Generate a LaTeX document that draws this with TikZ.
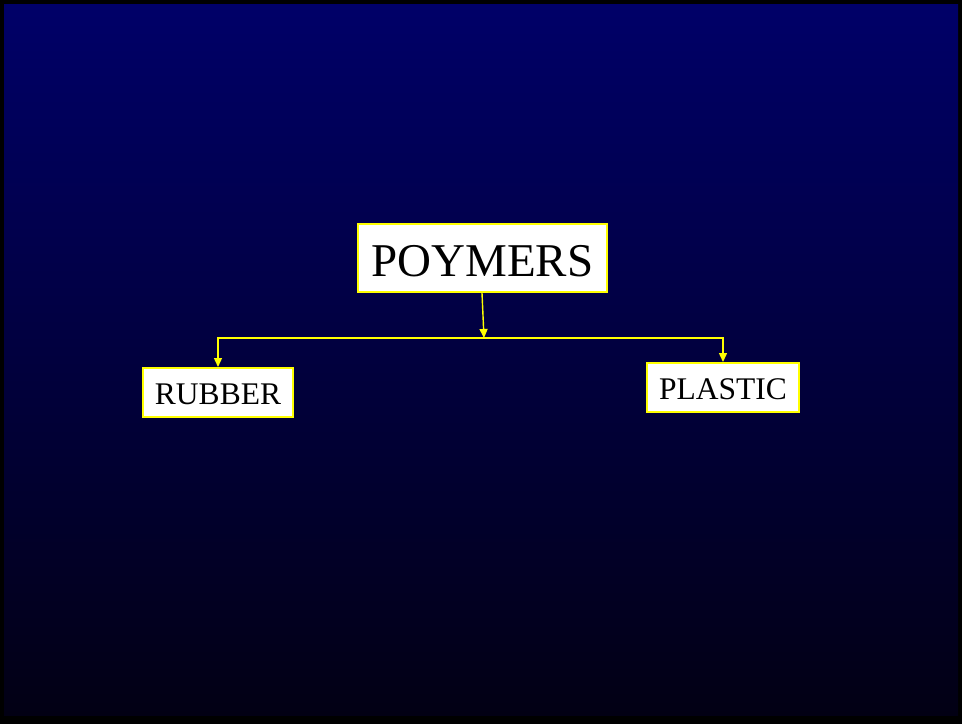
\documentclass[tikz,border=0pt]{standalone}
\usepackage{fontspec}
\setmainfont{Liberation Serif}
\usetikzlibrary{arrows.meta}
\definecolor{bgtop}{RGB}{0,0,104}
\definecolor{bgbot}{RGB}{2,0,20}
\definecolor{lineyel}{RGB}{255,255,0}
\tikzset{
  termbox/.style={draw=lineyel, line width=2pt, fill=white, inner sep=0pt, text=black, align=center},
  conn/.style={draw=lineyel, line width=1.4pt, -{Triangle[length=9pt,width=8pt]}}
}
\begin{document}
\begin{tikzpicture}[x=1pt,y=-1pt]
\useasboundingbox (0,0) rectangle (962,724);
\fill[black] (0,0) rectangle (962,724);
\shade[top color=bgtop, bottom color=bgbot] (4,4) rectangle (958,715);
\node[termbox, minimum width=249pt, minimum height=68pt, font=\fontsize{47}{50}\selectfont, text height=36pt, text depth=0pt] (poly) at (482.5,258) {POYMERS};
\node[termbox, minimum width=150pt, minimum height=49pt, font=\fontsize{31.5}{34}\selectfont, text height=23pt, text depth=0pt] (rubber) at (218,392.5) {RUBBER};
\node[termbox, minimum width=152pt, minimum height=49pt, font=\fontsize{31.5}{34}\selectfont, text height=23pt, text depth=0pt] (plastic) at (723,387.5) {PLASTIC};
\coordinate (j) at (484,338);
\draw[conn] ([xshift=-0.5pt]poly.south) -- (j);
\draw[conn] (j) -| (rubber.north);
\draw[conn] (j) -| (plastic.north);
\end{tikzpicture}
\end{document}
